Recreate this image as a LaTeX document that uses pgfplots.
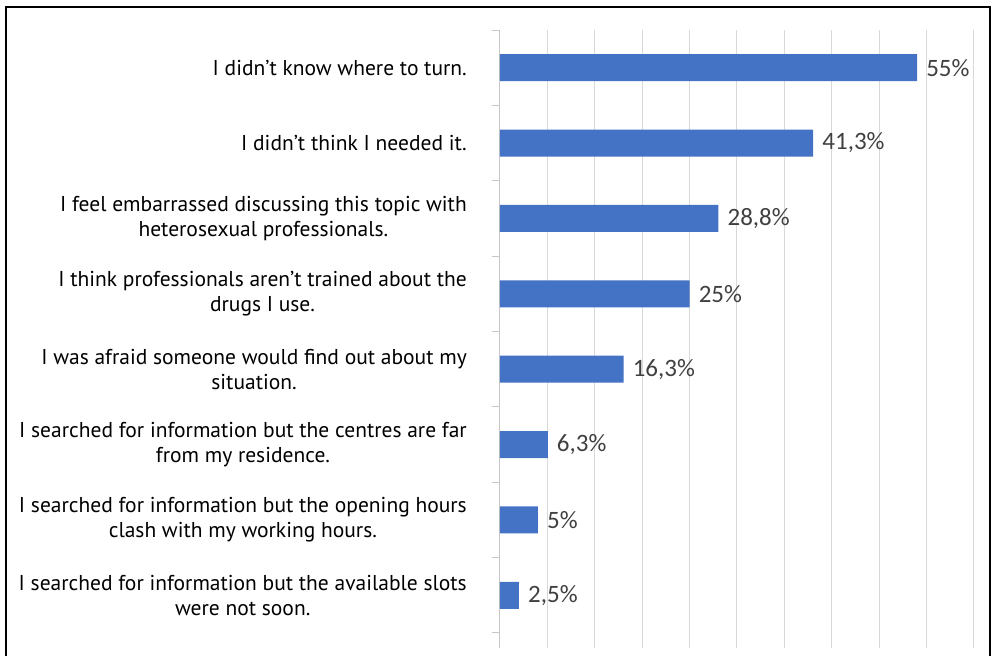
\documentclass[border=0pt]{standalone}
\usepackage{pgfplots}
\pgfplotsset{compat=1.18}
\usepackage{fontspec}
\setmainfont{PT Sans}
\newfontfamily\numfont{Carlito}
\definecolor{barblue}{HTML}{4472C4}
\definecolor{gridgray}{HTML}{D9D9D9}
\definecolor{labgray}{HTML}{404040}
\begin{document}
\begin{tikzpicture}[x=1pt,y=1pt]
\useasboundingbox (0,0) rectangle (991,656);
\draw[black, line width=2pt] (6,0) -- (6,649) -- (990,649) -- (990,0);
\begin{axis}[
  at={(500pt,8pt)}, anchor=south west,
  width=474pt, height=618pt, scale only axis,
  xmin=0, xmax=62.5, ymin=0.5, ymax=8.7, y dir=reverse,
  xbar, bar width=27pt,
  xtick={0,6.25,...,62.5}, xticklabels={},
  xmajorgrids, grid style={gridgray, line width=1pt},
  axis x line*=bottom, axis y line*=left,
  x axis line style={draw=none},
  y axis line style={draw=gridgray!80!gray, line width=1pt},
  ytick={1,...,8},
  yticklabels={
    {I didn't know where to turn.},
    {I didn't think I needed it.},
    {I feel embarrassed discussing this topic with\\heterosexual professionals.},
    {I think professionals aren't trained about the\\drugs I use.},
    {I was afraid someone would find out about my\\situation.},
    {I searched for information but the centres are far\\from my residence.},
    {I searched for information but the opening hours\\clash with my working hours.},
    {I searched for information but the available slots\\were not soon.}},
  yticklabel style={align=center, font=\fontsize{21.5}{25}\selectfont, text=black, inner sep=0pt, xshift=-33pt},
  minor ytick={0.5,1.5,...,8.5},
  major tick length=0pt, minor tick length=8pt, tick align=outside,
  minor tick style={gridgray!80!gray, line width=1pt},
  point meta=explicit symbolic,
  nodes near coords,
  nodes near coords style={anchor=west, font=\numfont\fontsize{25}{28}\selectfont, text=labgray, inner sep=0pt, xshift=9pt},
]
\addplot[fill=barblue, draw=none] coordinates {
  (55,1) [55\%]
  (41.3,2) [41,3\%]
  (28.8,3) [28,8\%]
  (25,4) [25\%]
  (16.3,5) [16,3\%]
  (6.3,6) [6,3\%]
  (5,7) [5\%]
  (2.5,8) [2,5\%]
};
\end{axis}
\end{tikzpicture}
\end{document}
